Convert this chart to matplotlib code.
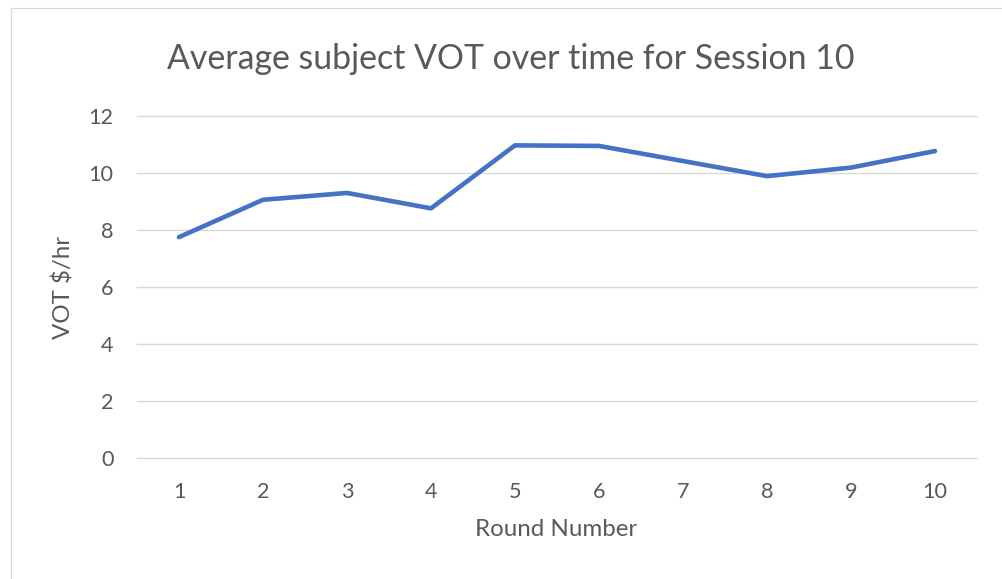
import matplotlib
matplotlib.use("Agg")
import matplotlib.pyplot as plt
from matplotlib.patches import Rectangle

rounds = [1, 2, 3, 4, 5, 6, 7, 8, 9, 10]
vot = [7.75, 9.06, 9.30, 8.76, 10.97, 10.95, 10.42, 9.89, 10.19, 10.77]
yticks = [0, 2, 4, 6, 8, 10, 12]

title = "Average subject VOT over time for Session 10"
xlabel = "Round Number"
ylabel = "VOT $/hr"

plt.rcParams['font.family'] = ['Lato', 'DejaVu Sans']
W, H = 1002, 579
fig = plt.figure(figsize=(W / 100, H / 100), dpi=100)
fig.patch.set_facecolor('white')

# chart frame (partially visible)
fig.patches.append(Rectangle((10.5 / W, -0.05), 1.1, 1 - 7.5 / H + 0.05,
                             transform=fig.transFigure, fill=False,
                             edgecolor='#d9d9d9', linewidth=0.9))

ax = fig.add_axes([137 / W, 1 - 458 / H, (977 - 137) / W, (458 - 116) / H])
ax.plot(rounds, vot, color='#4472C4', linewidth=3.3, solid_capstyle='round',
        solid_joinstyle='round', zorder=3)
ax.set_xlim(0.5, 10.5)
ax.set_ylim(0, 12)
ax.set_yticks(yticks)
ax.set_xticks(rounds)
ax.grid(axis='y', color='#d9d9d9', linewidth=1.0)
for gl in ax.get_ygridlines():
    gl.set_clip_on(False)
ax.set_axisbelow(True)
for s in ax.spines.values():
    s.set_visible(False)
ax.tick_params(length=0, labelsize=15.6, labelcolor='#595959')
ax.tick_params(axis='y', pad=17)
ax.tick_params(axis='x', pad=17)

fig.text(511 / W, 1 - 59 / H, title, ha='center', va='center',
         fontsize=24.4, color='#595959')
fig.text(556 / W, 1 - 530 / H, xlabel, ha='center', va='center',
         fontsize=17.4, color='#595959')
fig.text(64 / W, 1 - 287 / H, ylabel, ha='center', va='center',
         rotation=90, fontsize=17.4, color='#595959')

fig.savefig('out.png', dpi=100, facecolor='white')
